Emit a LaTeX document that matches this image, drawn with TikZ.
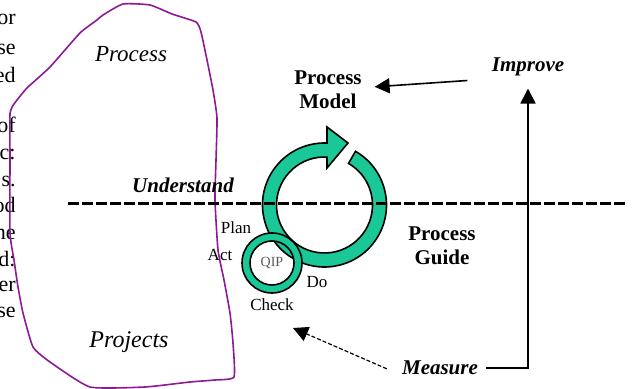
\documentclass[tikz,border=0pt]{standalone}
\usepackage{fontspec}
\setmainfont{Liberation Serif}
\usetikzlibrary{arrows.meta, positioning}
\definecolor{qipgreen}{RGB}{25,200,150}
\definecolor{qippurple}{RGB}{140,25,150}
\definecolor{qipgray}{RGB}{90,90,90}

\begin{document}
\begin{tikzpicture}[x=0.5pt, y=-0.5pt,
  every node/.style={inner sep=2pt},
  frag/.style={font=\fontsize{11}{13}\selectfont, anchor=base east, inner sep=0pt},
  area/.style={font=\fontsize{11.5}{13}\selectfont\itshape},
  boxtext/.style={font=\fontsize{10.5}{12}\selectfont\bfseries, align=center},
  act/.style={font=\fontsize{10.5}{12}\selectfont\bfseries\itshape},
  cyc/.style={font=\fontsize{8.5}{10}\selectfont},
  ring/.style={draw=black, line width=0.8pt, fill=qipgreen},
  arr/.style={-{Triangle[length=7.5pt,width=7.5pt]}, line width=0.9pt}]
  \clip (0,0) rectangle (633,389);
  % cut-off words of the page text at the left margin
  \foreach \w/\y in {or/25,se/55,ed/83,of/133,c:/160,s./187,od/213,he/240,d:/267,er/292,se/318}
    \node[frag] (frag\y) at (16,\y) {\w};
  % the purple outline round process and projects
  \draw[qippurple, line width=0.8pt] plot[smooth cycle, tension=0.3] coordinates {
    (103,15) (123,4) (150,5) (172,14) (196,22) (201,32) (207,60) (213,90) (217,118)
    (216,160) (215,200) (218,250) (224,280) (230,313) (233,343) (234,377) (215,380)
    (190,382) (145,387) (90,387) (50,362) (33,347) (23,313) (18,287) (14,260)
    (10,233) (10,160) (10,114) (14,104) (27,88) (50,67) (80,33) (97,20)};
  \node[area] (proc) at (131,54) {Process};
  \node[area, font=\fontsize{12}{14}\selectfont\itshape] (proj) at (129,342) {Projects};
  % big cycle with its arrow head
  \coordinate (qc) at (324.5,205);
  \filldraw[ring] ([shift={(-60:62)}]qc) arc[start angle=-60, end angle=272.3, radius=62]
    -- ([shift={(2.5,-78)}]qc) -- ([shift={(23.5,-62)}]qc) -- ([shift={(2.5,-37)}]qc)
    -- ([shift={(273:48)}]qc) arc[start angle=273, end angle=-60, radius=48] -- cycle;
  % the dashed divide
  \coordinate (lineL) at (68,204);
  \coordinate (lineR) at (625,204);
  \draw[line width=1.5pt, dash pattern=on 5.5pt off 1.5pt] (lineL) -- (lineR);
  % small QIP cycle
  \coordinate (qs) at (272,263);
  \filldraw[ring, even odd rule] (qs) circle[radius=30] (qs) circle[radius=22];
  \node[cyc, font=\fontsize{7}{8}\selectfont, text=qipgray] (qip) at (qs) {QIP};
  \node[cyc] (plan) at (236,228) {Plan};
  \node[cyc] (act) at (220,255) {Act};
  \node[cyc] (do) at (317,282) {Do};
  \node[cyc] (check) at (272,305) {Check};
  % labels
  \node[boxtext, outer sep=4.5pt] (pm) at (328,90) {Process\\Model};
  \node[boxtext] (pg) at (442,246) {Process\\Guide};
  \node[act] (und) at (183,185) {Understand};
  \node[act] (imp) at (528,67) {Improve};
  \node[act, outer sep=2pt] (meas) at (440,368) {Measure};
  \coordinate (measto) at (293,328);
  % connectors
  \draw[arr, line width=0.8pt] ([xshift=-10pt]imp.south west) -- (pm);
  \draw[arr, line width=0.6pt, dash pattern=on 2pt off 1pt, shorten <=4pt] ([yshift=-2pt]meas.west) -- (measto);
  \draw[arr, shorten >=4pt] (meas.east) -| (imp.south);
\end{tikzpicture}
\end{document}
